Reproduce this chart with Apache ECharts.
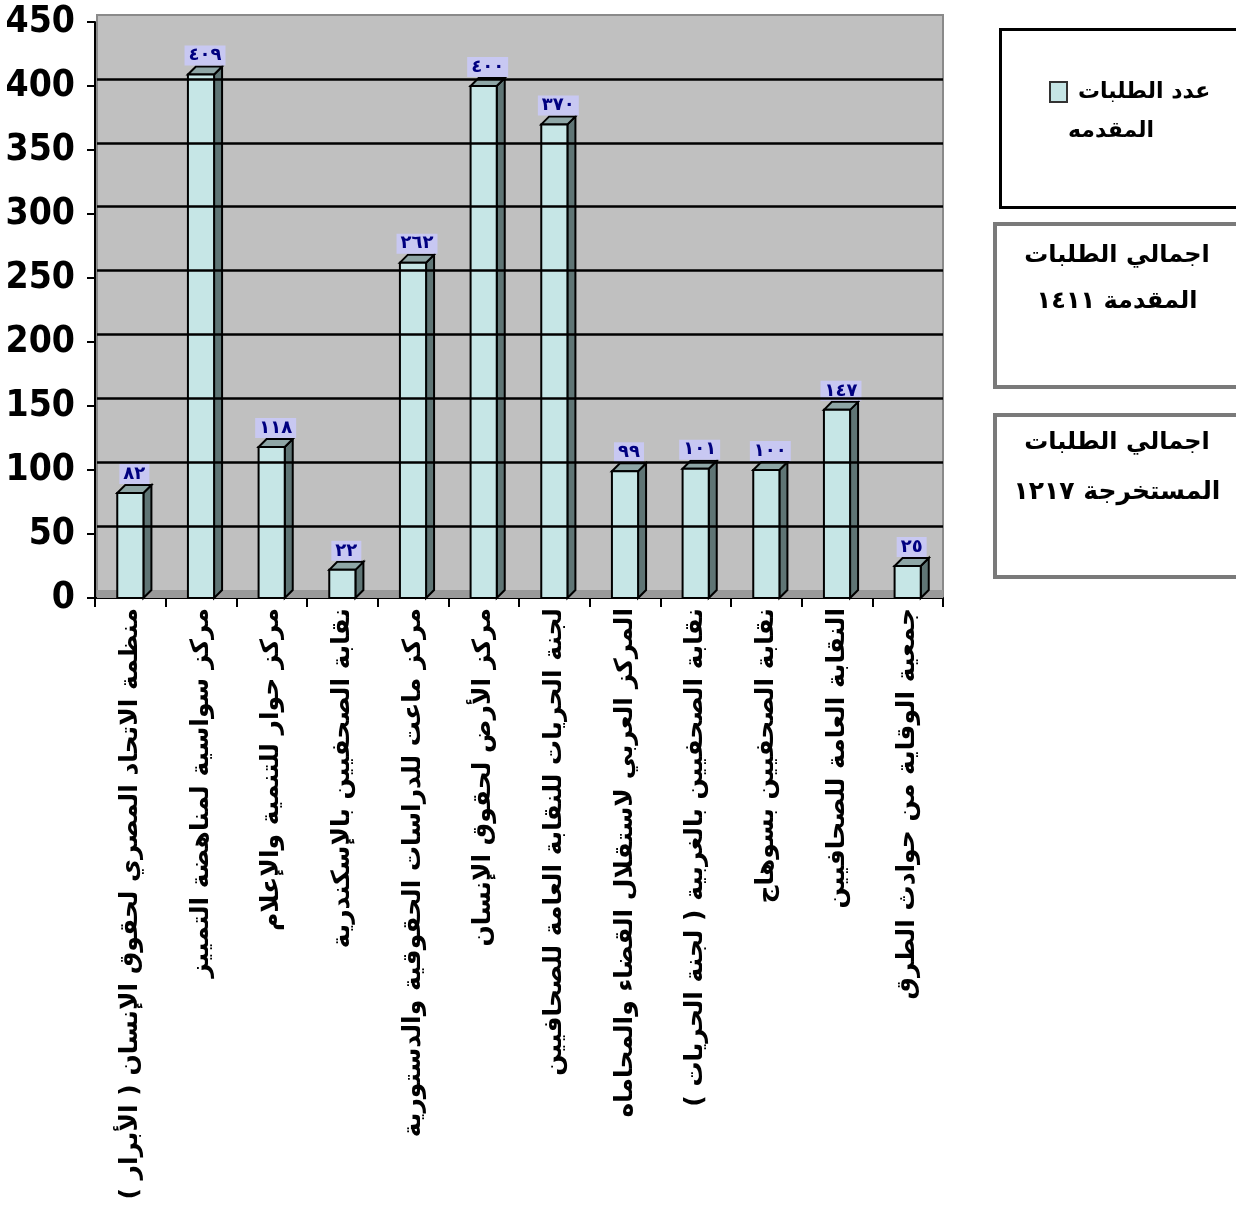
<!DOCTYPE html>
<html>
<head>
<meta charset="utf-8">
<script src="https://cdn.jsdelivr.net/npm/echarts@6/dist/echarts.min.js"></script>
<style>html,body{margin:0;padding:0;background:#fff}#c{width:1236px;height:1221px}</style>
</head>
<body>
<div id="c"></div>
<script>
const categories = [
  'منظمة الاتحاد المصري لحقوق الإنسان ( الأبرار )',
  'مركز سواسية لمناهضة التمييز',
  'مركز حوار للتنمية والإعلام',
  'نقابة الصحفيين بالإسكندرية',
  'مركز ماعت للدراسات الحقوقية والدستورية',
  'مركز الأرض لحقوق الإنسان',
  'لجنة الحريات للنقابة العامة للصحافيين',
  'المركز العربي لاستقلال القضاء والمحاماه',
  'نقابة الصحفيين بالغربية ( لجنة الحريات )',
  'نقابة الصحفيين بسوهاج',
  'النقابة العامة للصحافيين',
  'جمعية الوقاية من حوادث الطرق'
];
const values = [82, 409, 118, 22, 262, 400, 370, 99, 101, 100, 147, 25];
const seriesName = 'عدد الطلبات المقدمه';
const legendLines = ['عدد الطلبات', 'المقدمه'];
const yTicks = [0, 50, 100, 150, 200, 250, 300, 350, 400, 450];
const gridValues = [50, 100, 150, 200, 250, 300, 350, 400];
const box2Lines = ['اجمالي الطلبات', 'المقدمة ١٤١١'];
const box3Lines = ['اجمالي الطلبات', 'المستخرجة ١٢١٧'];

const toAr = n => String(n).replace(/\d/g, d => '٠١٢٣٤٥٦٧٨٩'[d]);
const FRONT = '#c6e6e6', SIDE = '#5f7575', TOP = '#8ea6a6';
const D = 8;
const boxFont = {fontFamily: 'DejaVu Sans', fontWeight: 'bold', fontSize: 24, fill: '#000', align: 'center', verticalAlign: 'middle'};

const chart = echarts.init(document.getElementById('c'));
chart.setOption({
  animation: false,
  backgroundColor: '#ffffff',
  grid: [
    {left: 97, right: 293, top: 15, bottom: 623, show: true, backgroundColor: '#c0c0c0', borderColor: '#8a8a8a', borderWidth: 2},
    {left: 95, right: 293, top: 22, bottom: 623}
  ],
  xAxis: [
    {gridIndex: 0, type: 'value', min: 0, max: 1, show: false},
    {gridIndex: 1, type: 'category', data: categories,
      axisLine: {lineStyle: {color: '#000', width: 2}},
      axisTick: {show: true, length: 9, lineStyle: {color: '#000', width: 2}},
      axisLabel: {rotate: 90, interval: 0, margin: 10, color: '#000', fontFamily: 'DejaVu Sans', fontWeight: 'bold', fontSize: 25}
    }
  ],
  yAxis: [
    {gridIndex: 0, type: 'value', min: -6.25, max: 450, show: false},
    {gridIndex: 1, type: 'value', min: 0, max: 450, interval: 50,
      axisLine: {show: true, lineStyle: {color: '#000', width: 2}},
      axisTick: {show: true, length: 8, lineStyle: {color: '#000', width: 2}},
      splitLine: {show: false},
      axisLabel: {margin: 20, color: '#000', fontFamily: 'DejaVu Sans Condensed', fontWeight: 'bold', fontSize: 37,
        formatter: v => yTicks.includes(v) ? String(v) : ''}
    }
  ],
  legend: {
    show: true, left: 1044, top: 76, orient: 'vertical',
    itemWidth: 17, itemHeight: 20, itemGap: 5,
    data: [{name: seriesName, icon: 'rect', itemStyle: {color: FRONT, borderColor: '#333', borderWidth: 2}}],
    formatter: () => legendLines[0],
    textStyle: {fontFamily: 'DejaVu Sans', fontWeight: 'bold', fontSize: 22, color: '#000', padding: [0, 0, 0, 6]}
  },
  graphic: [
    {type: 'rect', left: 998, top: 27, shape: {width: 250, height: 178}, style: {fill: 'none', stroke: '#000', lineWidth: 3}, z: 10},
    {type: 'text', x: 1111, y: 131, style: Object.assign({text: legendLines[1]}, boxFont, {fontSize: 22}), z: 11},
    {type: 'rect', left: 993, top: 222, shape: {width: 250, height: 163}, style: {fill: '#fff', stroke: '#7a7a7a', lineWidth: 4}, z: 1},
    {type: 'text', x: 1117, y: 256, style: Object.assign({text: box2Lines[0]}, boxFont), z: 11},
    {type: 'text', x: 1117, y: 302, style: Object.assign({text: box2Lines[1]}, boxFont), z: 11},
    {type: 'rect', left: 993, top: 413, shape: {width: 250, height: 162}, style: {fill: '#fff', stroke: '#7a7a7a', lineWidth: 4}, z: 1},
    {type: 'text', x: 1117, y: 443, style: Object.assign({text: box3Lines[0]}, boxFont), z: 11},
    {type: 'text', x: 1117, y: 492, style: Object.assign({text: box3Lines[1]}, boxFont, {fontSize: 25}), z: 11}
  ],
  series: [
    {
      type: 'line', xAxisIndex: 0, yAxisIndex: 0, data: [[0, 0]], symbol: 'none', lineStyle: {opacity: 0}, silent: true,
      markLine: {silent: true, symbol: 'none', label: {show: false},
        lineStyle: {color: '#000', width: 2.5, type: 'solid'},
        data: gridValues.map(v => ({yAxis: v}))},
      markArea: {silent: true, itemStyle: {color: '#9a9a9a'}, data: [[{yAxis: -6.25}, {yAxis: 0}]]}
    },
    {
      name: seriesName, type: 'custom', xAxisIndex: 1, yAxisIndex: 1,
      itemStyle: {color: FRONT},
      data: values.map((v, i) => [i, v]),
      encode: {x: 0, y: 1},
      clip: false,
      renderItem: (params, api) => {
        const idx = api.value(0), v = api.value(1);
        const base = api.coord([idx, 0]);
        const top = api.coord([idx, v]);
        const w = api.size([1, 0])[0] * 0.37;
        const l = base[0] - w / 2, r = base[0] + w / 2;
        const yt = top[1], yb = base[1];
        return {
          type: 'group',
          children: [
            {type: 'polygon', shape: {points: [[r, yt], [r + D, yt - D], [r + D, yb - D], [r, yb]]}, style: {fill: SIDE, stroke: '#000', lineWidth: 2}},
            {type: 'polygon', shape: {points: [[l, yt], [l + D, yt - D], [r + D, yt - D], [r, yt]]}, style: {fill: TOP, stroke: '#000', lineWidth: 2}},
            {type: 'rect', shape: {x: l, y: yt, width: w, height: yb - yt}, style: {fill: FRONT, stroke: '#000', lineWidth: 2}},
            {type: 'text', style: {text: toAr(v), x: base[0] + D / 2, y: yt - D - 1, align: 'center', verticalAlign: 'bottom',
              fill: '#000080', fontFamily: 'DejaVu Sans', fontWeight: 'bold', fontSize: 18, backgroundColor: '#c8c8f2', padding: [1, 4]}}
          ]
        };
      }
    }
  ]
});
</script>
</body>
</html>
